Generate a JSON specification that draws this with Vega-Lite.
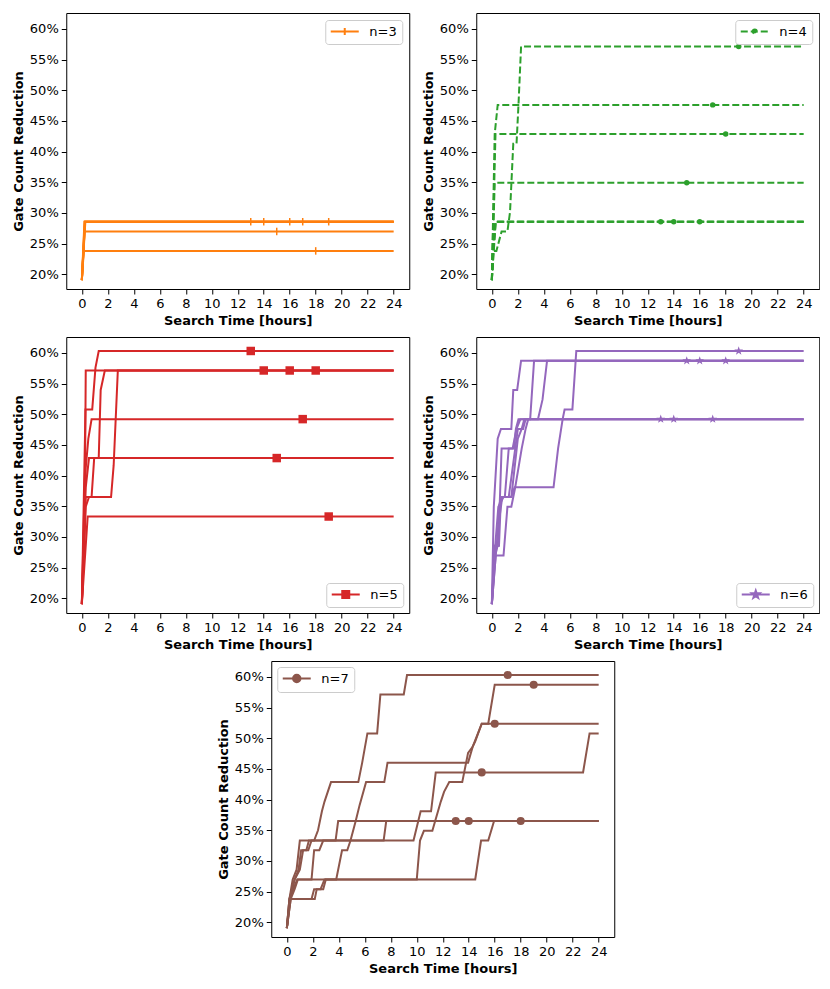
{
  "$schema": "https://vega.github.io/schema/vega-lite/v6.json",
  "background": "white",
  "padding": {"left": 11, "top": 12, "right": 0, "bottom": 0},
  "datasets": {
    "lines": [
      {"n":3,"run":13,"t":0,"v":19.05},{"n":3,"run":13,"t":0.25,"v":28.57},{"n":3,"run":13,"t":24,"v":28.57},
      {"n":3,"run":14,"t":0,"v":19.05},{"n":3,"run":14,"t":0.22,"v":28.57},{"n":3,"run":14,"t":24,"v":28.57},
      {"n":3,"run":15,"t":0,"v":19.05},{"n":3,"run":15,"t":0.2,"v":26.98},{"n":3,"run":15,"t":24,"v":26.98},
      {"n":3,"run":16,"t":0,"v":19.05},{"n":3,"run":16,"t":0.27,"v":28.57},{"n":3,"run":16,"t":24,"v":28.57},
      {"n":3,"run":17,"t":0,"v":19.05},{"n":3,"run":17,"t":0.25,"v":28.57},{"n":3,"run":17,"t":24,"v":28.57},
      {"n":3,"run":18,"t":0,"v":19.05},{"n":3,"run":18,"t":0.15,"v":23.81},{"n":3,"run":18,"t":24,"v":23.81},
      {"n":3,"run":19,"t":0,"v":19.05},{"n":3,"run":19,"t":0.2,"v":28.57},{"n":3,"run":19,"t":24,"v":28.57},

      {"n":4,"run":13,"t":0,"v":19.05},{"n":4,"run":13,"t":0.25,"v":28.57},{"n":4,"run":13,"t":24,"v":28.57},
      {"n":4,"run":14,"t":0,"v":19.05},{"n":4,"run":14,"t":0.1,"v":23.81},{"n":4,"run":14,"t":0.3,"v":28.57},{"n":4,"run":14,"t":24,"v":28.57},
      {"n":4,"run":15,"t":0,"v":19.05},{"n":4,"run":15,"t":0.22,"v":34.92},{"n":4,"run":15,"t":24,"v":34.92},
      {"n":4,"run":16,"t":0,"v":19.05},{"n":4,"run":16,"t":0.3,"v":28.57},{"n":4,"run":16,"t":24,"v":28.57},
      {"n":4,"run":17,"t":0,"v":19.05},{"n":4,"run":17,"t":0.22,"v":42.86},{"n":4,"run":17,"t":0.45,"v":47.62},{"n":4,"run":17,"t":24,"v":47.62},
      {"n":4,"run":18,"t":0,"v":19.05},{"n":4,"run":18,"t":0.28,"v":42.86},{"n":4,"run":18,"t":24,"v":42.86},
      {"n":4,"run":19,"t":0,"v":19.05},{"n":4,"run":19,"t":0.1,"v":23.81},{"n":4,"run":19,"t":0.35,"v":23.81},{"n":4,"run":19,"t":0.75,"v":26.98},{"n":4,"run":19,"t":1.2,"v":26.98},{"n":4,"run":19,"t":1.4,"v":30.16},{"n":4,"run":19,"t":1.65,"v":41.27},{"n":4,"run":19,"t":1.9,"v":41.27},{"n":4,"run":19,"t":2.05,"v":47.62},{"n":4,"run":19,"t":2.25,"v":57.14},{"n":4,"run":19,"t":24,"v":57.14},

      {"n":5,"run":13,"t":0,"v":19.05},{"n":5,"run":13,"t":0.28,"v":50.79},{"n":5,"run":13,"t":0.8,"v":50.79},{"n":5,"run":13,"t":1.05,"v":57.6},{"n":5,"run":13,"t":1.3,"v":60.32},{"n":5,"run":13,"t":24,"v":60.32},
      {"n":5,"run":14,"t":0,"v":19.05},{"n":5,"run":14,"t":0.25,"v":41.27},{"n":5,"run":14,"t":0.3,"v":57.14},{"n":5,"run":14,"t":24,"v":57.14},
      {"n":5,"run":15,"t":0,"v":19.05},{"n":5,"run":15,"t":0.3,"v":38.1},{"n":5,"run":15,"t":0.55,"v":42.86},{"n":5,"run":15,"t":24,"v":42.86},
      {"n":5,"run":16,"t":0,"v":19.05},{"n":5,"run":16,"t":0.3,"v":34.92},{"n":5,"run":16,"t":0.55,"v":36.51},{"n":5,"run":16,"t":2.25,"v":36.51},{"n":5,"run":16,"t":2.45,"v":41.7},{"n":5,"run":16,"t":2.77,"v":57.14},{"n":5,"run":16,"t":24,"v":57.14},
      {"n":5,"run":17,"t":0,"v":19.05},{"n":5,"run":17,"t":0.3,"v":41.27},{"n":5,"run":17,"t":0.5,"v":46.03},{"n":5,"run":17,"t":0.75,"v":49.21},{"n":5,"run":17,"t":24,"v":49.21},
      {"n":5,"run":18,"t":0,"v":19.05},{"n":5,"run":18,"t":0.3,"v":36.51},{"n":5,"run":18,"t":0.75,"v":36.51},{"n":5,"run":18,"t":0.95,"v":42.86},{"n":5,"run":18,"t":1.3,"v":42.86},{"n":5,"run":18,"t":1.45,"v":53.97},{"n":5,"run":18,"t":1.77,"v":57.14},{"n":5,"run":18,"t":24,"v":57.14},
      {"n":5,"run":19,"t":0,"v":19.05},{"n":5,"run":19,"t":0.45,"v":33.33},{"n":5,"run":19,"t":24,"v":33.33},

      {"n":6,"run":13,"t":0,"v":19.05},{"n":6,"run":13,"t":0.25,"v":26.98},{"n":6,"run":13,"t":0.45,"v":28.57},{"n":6,"run":13,"t":0.55,"v":34.92},{"n":6,"run":13,"t":0.7,"v":36.51},{"n":6,"run":13,"t":1.0,"v":36.51},{"n":6,"run":13,"t":1.3,"v":44.44},{"n":6,"run":13,"t":1.7,"v":44.44},{"n":6,"run":13,"t":1.85,"v":47.62},{"n":6,"run":13,"t":2.05,"v":49.21},{"n":6,"run":13,"t":24,"v":49.21},
      {"n":6,"run":14,"t":0,"v":19.05},{"n":6,"run":14,"t":0.2,"v":28.57},{"n":6,"run":14,"t":0.5,"v":28.57},{"n":6,"run":14,"t":0.6,"v":34.92},{"n":6,"run":14,"t":0.75,"v":44.44},{"n":6,"run":14,"t":1.6,"v":44.44},{"n":6,"run":14,"t":1.9,"v":47.62},{"n":6,"run":14,"t":2.2,"v":49.21},{"n":6,"run":14,"t":24,"v":49.21},
      {"n":6,"run":15,"t":0,"v":19.05},{"n":6,"run":15,"t":0.15,"v":34.92},{"n":6,"run":15,"t":0.45,"v":46.03},{"n":6,"run":15,"t":0.7,"v":47.62},{"n":6,"run":15,"t":1.5,"v":47.62},{"n":6,"run":15,"t":1.65,"v":53.97},{"n":6,"run":15,"t":1.95,"v":53.97},{"n":6,"run":15,"t":2.25,"v":58.73},{"n":6,"run":15,"t":24,"v":58.73},
      {"n":6,"run":16,"t":0,"v":19.05},{"n":6,"run":16,"t":0.3,"v":26.98},{"n":6,"run":16,"t":0.5,"v":31.75},{"n":6,"run":16,"t":0.8,"v":36.51},{"n":6,"run":16,"t":1.3,"v":36.51},{"n":6,"run":16,"t":1.6,"v":41.27},{"n":6,"run":16,"t":2.0,"v":47.62},{"n":6,"run":16,"t":2.4,"v":47.62},{"n":6,"run":16,"t":2.6,"v":49.21},{"n":6,"run":16,"t":2.95,"v":49.21},{"n":6,"run":16,"t":3.25,"v":58.73},{"n":6,"run":16,"t":24,"v":58.73},
      {"n":6,"run":17,"t":0,"v":19.05},{"n":6,"run":17,"t":0.3,"v":26.98},{"n":6,"run":17,"t":0.9,"v":26.98},{"n":6,"run":17,"t":1.2,"v":34.92},{"n":6,"run":17,"t":1.5,"v":34.92},{"n":6,"run":17,"t":1.8,"v":38.1},{"n":6,"run":17,"t":2.3,"v":44.44},{"n":6,"run":17,"t":2.6,"v":47.62},{"n":6,"run":17,"t":2.8,"v":49.21},{"n":6,"run":17,"t":24,"v":49.21},
      {"n":6,"run":18,"t":0,"v":19.05},{"n":6,"run":18,"t":0.25,"v":28.57},{"n":6,"run":18,"t":0.55,"v":28.57},{"n":6,"run":18,"t":0.7,"v":36.51},{"n":6,"run":18,"t":1.5,"v":36.51},{"n":6,"run":18,"t":1.75,"v":41.27},{"n":6,"run":18,"t":2.0,"v":46.03},{"n":6,"run":18,"t":2.3,"v":47.62},{"n":6,"run":18,"t":2.5,"v":49.21},{"n":6,"run":18,"t":3.55,"v":49.21},{"n":6,"run":18,"t":3.9,"v":52.38},{"n":6,"run":18,"t":4.25,"v":58.73},{"n":6,"run":18,"t":24,"v":58.73},
      {"n":6,"run":19,"t":0,"v":19.05},{"n":6,"run":19,"t":0.2,"v":26.98},{"n":6,"run":19,"t":0.5,"v":34.92},{"n":6,"run":19,"t":0.9,"v":36.51},{"n":6,"run":19,"t":1.5,"v":36.51},{"n":6,"run":19,"t":1.75,"v":38.1},{"n":6,"run":19,"t":4.75,"v":38.1},{"n":6,"run":19,"t":5.1,"v":44.44},{"n":6,"run":19,"t":5.45,"v":49.21},{"n":6,"run":19,"t":5.6,"v":50.79},{"n":6,"run":19,"t":6.2,"v":50.79},{"n":6,"run":19,"t":6.5,"v":60.32},{"n":6,"run":19,"t":24,"v":60.32},

      {"n":7,"run":13,"t":0,"v":19.05},{"n":7,"run":13,"t":0.2,"v":23.81},{"n":7,"run":13,"t":0.45,"v":26.98},{"n":7,"run":13,"t":0.75,"v":28.57},{"n":7,"run":13,"t":1.0,"v":33.33},{"n":7,"run":13,"t":3.75,"v":33.33},{"n":7,"run":13,"t":3.95,"v":36.51},{"n":7,"run":13,"t":24,"v":36.51},
      {"n":7,"run":14,"t":0,"v":19.05},{"n":7,"run":14,"t":0.25,"v":23.81},{"n":7,"run":14,"t":0.6,"v":26.98},{"n":7,"run":14,"t":1.0,"v":28.57},{"n":7,"run":14,"t":1.25,"v":31.75},{"n":7,"run":14,"t":1.65,"v":31.75},{"n":7,"run":14,"t":1.9,"v":33.33},{"n":7,"run":14,"t":7.45,"v":33.33},{"n":7,"run":14,"t":7.65,"v":36.51},{"n":7,"run":14,"t":24,"v":36.51},
      {"n":7,"run":15,"t":0,"v":19.05},{"n":7,"run":15,"t":0.2,"v":23.81},{"n":7,"run":15,"t":0.5,"v":25.4},{"n":7,"run":15,"t":0.8,"v":26.98},{"n":7,"run":15,"t":1.9,"v":26.98},{"n":7,"run":15,"t":2.1,"v":31.75},{"n":7,"run":15,"t":2.5,"v":31.75},{"n":7,"run":15,"t":2.8,"v":33.33},{"n":7,"run":15,"t":9.75,"v":33.33},{"n":7,"run":15,"t":10.3,"v":38.1},{"n":7,"run":15,"t":11.1,"v":38.1},{"n":7,"run":15,"t":11.46,"v":44.44},{"n":7,"run":15,"t":22.8,"v":44.44},{"n":7,"run":15,"t":23.3,"v":50.79},{"n":7,"run":15,"t":24,"v":50.79},
      {"n":7,"run":16,"t":0,"v":19.05},{"n":7,"run":16,"t":0.25,"v":23.81},{"n":7,"run":16,"t":2.15,"v":23.81},{"n":7,"run":16,"t":2.3,"v":25.4},{"n":7,"run":16,"t":2.8,"v":25.4},{"n":7,"run":16,"t":3.0,"v":26.98},{"n":7,"run":16,"t":3.8,"v":26.98},{"n":7,"run":16,"t":4.25,"v":31.75},{"n":7,"run":16,"t":4.65,"v":31.75},{"n":7,"run":16,"t":4.9,"v":33.33},{"n":7,"run":16,"t":5.3,"v":36.51},{"n":7,"run":16,"t":5.6,"v":39.1},{"n":7,"run":16,"t":6.1,"v":42.86},{"n":7,"run":16,"t":7.5,"v":42.86},{"n":7,"run":16,"t":7.75,"v":46.03},{"n":7,"run":16,"t":13.95,"v":46.03},{"n":7,"run":16,"t":14.3,"v":48.6},{"n":7,"run":16,"t":14.5,"v":49.5},{"n":7,"run":16,"t":15.0,"v":52.38},{"n":7,"run":16,"t":24,"v":52.38},
      {"n":7,"run":17,"t":0,"v":19.05},{"n":7,"run":17,"t":0.2,"v":23.81},{"n":7,"run":17,"t":0.4,"v":25.4},{"n":7,"run":17,"t":0.6,"v":26.98},{"n":7,"run":17,"t":0.9,"v":28.57},{"n":7,"run":17,"t":1.1,"v":31.75},{"n":7,"run":17,"t":1.5,"v":31.75},{"n":7,"run":17,"t":1.7,"v":33.33},{"n":7,"run":17,"t":2.1,"v":33.33},{"n":7,"run":17,"t":2.4,"v":35.0},{"n":7,"run":17,"t":2.7,"v":38.1},{"n":7,"run":17,"t":2.9,"v":39.68},{"n":7,"run":17,"t":3.4,"v":42.86},{"n":7,"run":17,"t":5.5,"v":42.86},{"n":7,"run":17,"t":5.8,"v":46.03},{"n":7,"run":17,"t":6.2,"v":50.79},{"n":7,"run":17,"t":6.95,"v":50.79},{"n":7,"run":17,"t":7.2,"v":57.14},{"n":7,"run":17,"t":9.0,"v":57.14},{"n":7,"run":17,"t":9.25,"v":60.32},{"n":7,"run":17,"t":24,"v":60.32},
      {"n":7,"run":18,"t":0,"v":19.05},{"n":7,"run":18,"t":0.3,"v":23.81},{"n":7,"run":18,"t":1.9,"v":23.81},{"n":7,"run":18,"t":2.1,"v":25.4},{"n":7,"run":18,"t":2.6,"v":25.4},{"n":7,"run":18,"t":2.9,"v":26.98},{"n":7,"run":18,"t":14.5,"v":26.98},{"n":7,"run":18,"t":14.95,"v":33.33},{"n":7,"run":18,"t":15.5,"v":33.33},{"n":7,"run":18,"t":15.95,"v":36.51},{"n":7,"run":18,"t":24,"v":36.51},
      {"n":7,"run":19,"t":0,"v":19.05},{"n":7,"run":19,"t":0.3,"v":23.81},{"n":7,"run":19,"t":0.6,"v":25.4},{"n":7,"run":19,"t":0.85,"v":26.98},{"n":7,"run":19,"t":10.0,"v":26.98},{"n":7,"run":19,"t":10.25,"v":33.33},{"n":7,"run":19,"t":10.55,"v":34.92},{"n":7,"run":19,"t":11.2,"v":34.92},{"n":7,"run":19,"t":11.85,"v":39.68},{"n":7,"run":19,"t":12.1,"v":41.27},{"n":7,"run":19,"t":12.5,"v":42.86},{"n":7,"run":19,"t":13.5,"v":42.86},{"n":7,"run":19,"t":13.95,"v":47.62},{"n":7,"run":19,"t":14.3,"v":48.6},{"n":7,"run":19,"t":15.0,"v":52.38},{"n":7,"run":19,"t":15.5,"v":52.38},{"n":7,"run":19,"t":16.0,"v":58.73},{"n":7,"run":19,"t":24,"v":58.73}
    ],
    "marks": [
      {"n":3,"run":13,"t":13,"v":28.57},{"n":3,"run":14,"t":14,"v":28.57},{"n":3,"run":15,"t":15,"v":26.98},{"n":3,"run":16,"t":16,"v":28.57},{"n":3,"run":17,"t":17,"v":28.57},{"n":3,"run":18,"t":18,"v":23.81},{"n":3,"run":19,"t":19,"v":28.57},
      {"n":4,"run":13,"t":13,"v":28.57},{"n":4,"run":14,"t":14,"v":28.57},{"n":4,"run":15,"t":15,"v":34.92},{"n":4,"run":16,"t":16,"v":28.57},{"n":4,"run":17,"t":17,"v":47.62},{"n":4,"run":18,"t":18,"v":42.86},{"n":4,"run":19,"t":19,"v":57.14},
      {"n":5,"run":13,"t":13,"v":60.32},{"n":5,"run":14,"t":14,"v":57.14},{"n":5,"run":15,"t":15,"v":42.86},{"n":5,"run":16,"t":16,"v":57.14},{"n":5,"run":17,"t":17,"v":49.21},{"n":5,"run":18,"t":18,"v":57.14},{"n":5,"run":19,"t":19,"v":33.33},
      {"n":6,"run":13,"t":13,"v":49.21},{"n":6,"run":14,"t":14,"v":49.21},{"n":6,"run":15,"t":15,"v":58.73},{"n":6,"run":16,"t":16,"v":58.73},{"n":6,"run":17,"t":17,"v":49.21},{"n":6,"run":18,"t":18,"v":58.73},{"n":6,"run":19,"t":19,"v":60.32},
      {"n":7,"run":13,"t":13,"v":36.51},{"n":7,"run":14,"t":14,"v":36.51},{"n":7,"run":15,"t":15,"v":44.44},{"n":7,"run":16,"t":16,"v":52.38},{"n":7,"run":17,"t":17,"v":60.32},{"n":7,"run":18,"t":18,"v":36.51},{"n":7,"run":19,"t":19,"v":58.73}
    ]
  },
  "spacing": 8,
  "center": true,
  "resolve": {"scale": {"color": "independent"}, "legend": {"color": "independent"}},
  "vconcat": [
    {
      "spacing": 11,
      "resolve": {"scale": {"color": "independent"}, "legend": {"color": "independent"}},
      "hconcat": [
        {
          "width": 343, "height": 276,
          "encoding": {
            "x": {"field": "t", "type": "quantitative", "title": "Search Time [hours]", "scale": {"domain": [-1.2, 25.2], "nice": false, "zero": false}, "axis": {"values": [0,2,4,6,8,10,12,14,16,18,20,22,24]}},
            "y": {"field": "v", "type": "quantitative", "title": "Gate Count Reduction", "scale": {"domain": [17.6, 62.6], "nice": false, "zero": false}, "axis": {"values": [20,25,30,35,40,45,50,55,60], "labelExpr": "datum.value + '%'"}}
          },
          "layer": [
            {"data": {"name": "lines"}, "transform": [{"filter": "datum.n == 3"}], "mark": {"type": "line", "color": "#ff7f0e", "strokeWidth": 2}, "encoding": {"detail": {"field": "run"}}},
            {"data": {"name": "marks"}, "transform": [{"filter": "datum.n == 3"}], "mark": {"type": "point", "shape": "M0,-1L0,1", "filled": false, "size": 56, "strokeWidth": 1.5, "opacity": 1},
             "encoding": {"color": {"datum": "n=3", "scale": {"range": ["#ff7f0e"]}, "legend": {"title": null, "orient": "top-right", "offset": 7, "symbolType": "M-2.8,0H2.8M0,-0.7V0.7", "symbolFillColor": "#ff7f0e", "symbolStrokeColor": "#ff7f0e",
               "encode": {"symbols": {"update": {"fill": {"value": "#ff7f0e"}, "stroke": {"value": "#ff7f0e"}, "opacity": {"value": 1}}}}}}}}
          ]
        },
        {
          "width": 343, "height": 276,
          "encoding": {
            "x": {"field": "t", "type": "quantitative", "title": "Search Time [hours]", "scale": {"domain": [-1.2, 25.2], "nice": false, "zero": false}, "axis": {"values": [0,2,4,6,8,10,12,14,16,18,20,22,24]}},
            "y": {"field": "v", "type": "quantitative", "title": "Gate Count Reduction", "scale": {"domain": [17.6, 62.6], "nice": false, "zero": false}, "axis": {"values": [20,25,30,35,40,45,50,55,60], "labelExpr": "datum.value + '%'"}}
          },
          "layer": [
            {"data": {"name": "lines"}, "transform": [{"filter": "datum.n == 4"}], "mark": {"type": "line", "color": "#2ca02c", "strokeWidth": 2, "strokeDash": [7, 3]}, "encoding": {"detail": {"field": "run"}}},
            {"data": {"name": "marks"}, "transform": [{"filter": "datum.n == 4"}], "mark": {"type": "point", "shape": "circle", "filled": true, "size": 30, "opacity": 1},
             "encoding": {"color": {"datum": "n=4", "scale": {"range": ["#2ca02c"]}, "legend": {"title": null, "orient": "top-right", "offset": 7, "symbolType": "M-2.8,0H2.8M-0.4,0A0.4,0.4 0 1,1 0.4,0A0.4,0.4 0 1,1 -0.4,0Z", "symbolDash": [7, 3], "symbolFillColor": "#2ca02c", "symbolStrokeColor": "#2ca02c",
               "encode": {"symbols": {"update": {"fill": {"value": "#2ca02c"}, "stroke": {"value": "#2ca02c"}, "opacity": {"value": 1}}}}}}}}
          ]
        }
      ]
    },
    {
      "spacing": 11,
      "resolve": {"scale": {"color": "independent"}, "legend": {"color": "independent"}},
      "hconcat": [
        {
          "width": 343, "height": 276,
          "encoding": {
            "x": {"field": "t", "type": "quantitative", "title": "Search Time [hours]", "scale": {"domain": [-1.2, 25.2], "nice": false, "zero": false}, "axis": {"values": [0,2,4,6,8,10,12,14,16,18,20,22,24]}},
            "y": {"field": "v", "type": "quantitative", "title": "Gate Count Reduction", "scale": {"domain": [17.6, 62.6], "nice": false, "zero": false}, "axis": {"values": [20,25,30,35,40,45,50,55,60], "labelExpr": "datum.value + '%'"}}
          },
          "layer": [
            {"data": {"name": "lines"}, "transform": [{"filter": "datum.n == 5"}], "mark": {"type": "line", "color": "#d62728", "strokeWidth": 2}, "encoding": {"detail": {"field": "run"}}},
            {"data": {"name": "marks"}, "transform": [{"filter": "datum.n == 5"}], "mark": {"type": "point", "shape": "square", "filled": true, "size": 72, "opacity": 1},
             "encoding": {"color": {"datum": "n=5", "scale": {"range": ["#d62728"]}, "legend": {"title": null, "orient": "bottom-right", "offset": 6, "symbolType": "M-2.8,0H2.8M-0.7,-0.7H0.7V0.7H-0.7Z", "symbolFillColor": "#d62728", "symbolStrokeColor": "#d62728",
               "encode": {"symbols": {"update": {"fill": {"value": "#d62728"}, "stroke": {"value": "#d62728"}, "opacity": {"value": 1}}}}}}}}
          ]
        },
        {
          "width": 343, "height": 276,
          "encoding": {
            "x": {"field": "t", "type": "quantitative", "title": "Search Time [hours]", "scale": {"domain": [-1.2, 25.2], "nice": false, "zero": false}, "axis": {"values": [0,2,4,6,8,10,12,14,16,18,20,22,24]}},
            "y": {"field": "v", "type": "quantitative", "title": "Gate Count Reduction", "scale": {"domain": [17.6, 62.6], "nice": false, "zero": false}, "axis": {"values": [20,25,30,35,40,45,50,55,60], "labelExpr": "datum.value + '%'"}}
          },
          "layer": [
            {"data": {"name": "lines"}, "transform": [{"filter": "datum.n == 6"}], "mark": {"type": "line", "color": "#9467bd", "strokeWidth": 2}, "encoding": {"detail": {"field": "run"}}},
            {"data": {"name": "marks"}, "transform": [{"filter": "datum.n == 6"}], "mark": {"type": "point", "shape": "M0,-1L0.235,-0.324L0.951,-0.309L0.38,0.124L0.588,0.809L0,0.4L-0.588,0.809L-0.38,0.124L-0.951,-0.309L-0.235,-0.324Z", "filled": true, "size": 85, "opacity": 1},
             "encoding": {"color": {"datum": "n=6", "scale": {"range": ["#9467bd"]}, "legend": {"title": null, "orient": "bottom-right", "offset": 6, "symbolType": "M-2.8,0H2.8M0,-0.8L0.188,-0.259L0.761,-0.247L0.304,0.099L0.47,0.647L0,0.32L-0.47,0.647L-0.304,0.099L-0.761,-0.247L-0.188,-0.259Z", "symbolFillColor": "#9467bd", "symbolStrokeColor": "#9467bd",
               "encode": {"symbols": {"update": {"fill": {"value": "#9467bd"}, "stroke": {"value": "#9467bd"}, "opacity": {"value": 1}}}}}}}}
          ]
        }
      ]
    },
    {
      "width": 343, "height": 276,
      "encoding": {
        "x": {"field": "t", "type": "quantitative", "title": "Search Time [hours]", "scale": {"domain": [-1.2, 25.2], "nice": false, "zero": false}, "axis": {"values": [0,2,4,6,8,10,12,14,16,18,20,22,24]}},
        "y": {"field": "v", "type": "quantitative", "title": "Gate Count Reduction", "scale": {"domain": [17.6, 62.6], "nice": false, "zero": false}, "axis": {"values": [20,25,30,35,40,45,50,55,60], "labelExpr": "datum.value + '%'"}}
      },
      "layer": [
        {"data": {"name": "lines"}, "transform": [{"filter": "datum.n == 7"}], "mark": {"type": "line", "color": "#8c564b", "strokeWidth": 2}, "encoding": {"detail": {"field": "run"}}},
        {"data": {"name": "marks"}, "transform": [{"filter": "datum.n == 7"}], "mark": {"type": "point", "shape": "circle", "filled": true, "size": 65, "opacity": 1},
         "encoding": {"color": {"datum": "n=7", "scale": {"range": ["#8c564b"]}, "legend": {"title": null, "orient": "top-left", "offset": 6, "symbolType": "M-2.8,0H2.8M-0.75,0A0.75,0.75 0 1,1 0.75,0A0.75,0.75 0 1,1 -0.75,0Z", "symbolFillColor": "#8c564b", "symbolStrokeColor": "#8c564b",
           "encode": {"symbols": {"update": {"fill": {"value": "#8c564b"}, "stroke": {"value": "#8c564b"}, "opacity": {"value": 1}}}}}}}}
      ]
    }
  ],
  "config": {
    "view": {"stroke": "#000", "strokeWidth": 1},
    "axis": {"grid": false, "domain": false, "ticks": true, "tickSize": 5, "tickColor": "#000", "tickWidth": 1, "labelFont": "DejaVu Sans", "labelFontSize": 13, "labelColor": "#000", "labelPadding": 3, "labelOverlap": false, "titleFont": "DejaVu Sans", "titleFontSize": 13, "titleFontWeight": "bold", "titleColor": "#000", "titlePadding": 4},
    "axisX": {"labelAngle": 0},
    "legend": {"padding": 5, "strokeColor": "#cccccc", "fillColor": "rgba(255,255,255,0.8)", "cornerRadius": 3, "symbolSize": 100, "symbolStrokeWidth": 2, "symbolOffset": 8, "labelOffset": 18, "labelFont": "DejaVu Sans", "labelFontSize": 13, "labelColor": "#000"}
  }
}
